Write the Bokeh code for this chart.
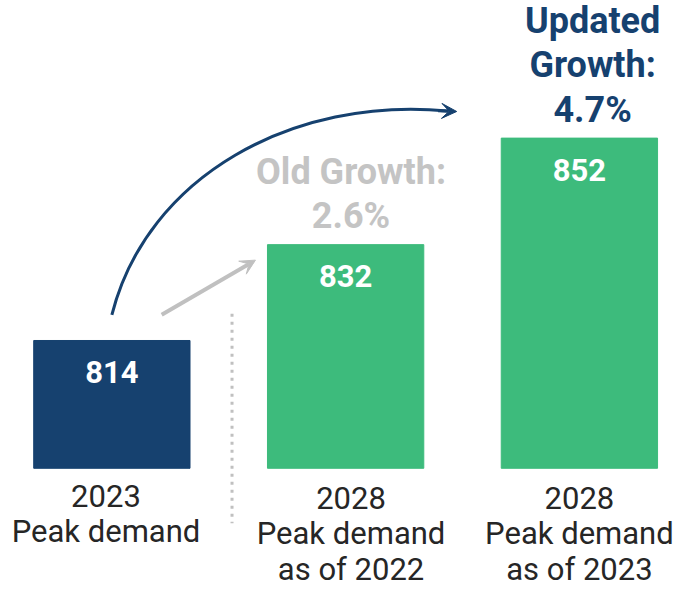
from bokeh.plotting import figure
from bokeh.models import ColumnDataSource, Range1d, Arrow, VeeHead
from bokeh.core.properties import value
from bokeh.embed import file_html
from bokeh.resources import INLINE

# ---- data ----
categories = ["2023\nPeak demand", "2028\nPeak demand\nas of 2022", "2028\nPeak demand\nas of 2023"]
values = [814, 832, 852]
value_labels = ["814", "832", "852"]
growth_bar = [1, 2]
growth_labels = ["Old Growth:\n2.6%", "Updated\nGrowth:\n4.7%"]
baseline = 790

# ---- styles ----
NAVY = "#16416F"
GREEN = "#3DBB7C"
GREY_TXT = "#C4C4C4"
GREY_LINE = "#C0C0C0"
DARK = "#262626"
bar_colors = [NAVY, GREEN, GREEN]
growth_colors = [GREY_TXT, NAVY]
FONT = value("Roboto")

W, H = 676, 589
SX, SY = W / 692, H / 605
PX_X = 239.3 * SX
PX_Y = 5.47 * SY
x0 = -114 * SX / PX_X
y0 = baseline - (H - 480.5 * SY) / PX_Y

# renderer places the "alphabetic" anchor ~0.385 em above the true baseline
FIX_S = 0.385 * 31
FIX_L = 0.385 * 36

cat_xoff = [-5.9, 5.4, 0.0]
cat_yoff = [39.5, 42.0, 42.0]
cat_step = 35.5
growth_xoff = [5.4, 13.2]

p = figure(width=W, height=H, output_backend="svg", toolbar_location=None,
           x_range=Range1d(x0, x0 + W / PX_X), y_range=Range1d(y0, y0 + H / PX_Y),
           x_axis_location=None, y_axis_location=None, min_border=0)
p.grid.visible = False
p.outline_line_color = None
p.background_fill_color = "white"
p.border_fill_color = "white"

xs = list(range(len(values)))
bars = ColumnDataSource(dict(x=xs, top=values, color=bar_colors, label=value_labels))
p.vbar(x="x", top="top", bottom=baseline, width=160 * SX / PX_X, color="color", source=bars)

# value labels inside bars
p.text(x="x", y="top", text="label", source=bars, y_offset=43.8 - FIX_S,
       text_align="center", text_baseline="alphabetic", text_color="white",
       text_font=FONT, text_font_style="bold", text_font_size="31px")

# category labels below bars
cx, cy, ct, cxo, cyo = [], [], [], [], []
for i, lab in enumerate(categories):
    for k, line in enumerate(lab.split("\n")):
        cx.append(xs[i]); cy.append(baseline); ct.append(line)
        cxo.append(cat_xoff[i]); cyo.append(cat_yoff[i] + cat_step * k - FIX_S)
p.text(x="x", y="y", text="t", x_offset="xo", y_offset="yo",
       source=ColumnDataSource(dict(x=cx, y=cy, t=ct, xo=cxo, yo=cyo)),
       text_align="center", text_baseline="alphabetic", text_color=DARK,
       text_font=FONT, text_font_size="31px")

# growth labels above bars
gx, gy, gt, gxo, gyo, gc = [], [], [], [], [], []
for j, lab in enumerate(growth_labels):
    lines = lab.split("\n")
    n = len(lines)
    b = growth_bar[j]
    for k, line in enumerate(lines):
        gx.append(xs[b]); gy.append(values[b]); gt.append(line)
        gxo.append(growth_xoff[j]); gyo.append(-14.6 - 44.3 * (n - 1 - k) - FIX_L)
        gc.append(growth_colors[j])
p.text(x="x", y="y", text="t", x_offset="xo", y_offset="yo", text_color="c",
       source=ColumnDataSource(dict(x=gx, y=gy, t=gt, xo=gxo, yo=gyo, c=gc)),
       text_align="center", text_baseline="alphabetic",
       text_font=FONT, text_font_style="bold", text_font_size="36px")

# dotted separator
p.segment(x0=[0.514], y0=[819.0], x1=[0.514], y1=[779.7],
          line_color=GREY_LINE, line_width=3, line_dash="3 5", line_cap="butt")

# curved "updated growth" arrow
p.bezier(x0=[0.0], y0=[818.8], x1=[1.4375], y1=[857.09],
         cx0=[0.150], cy0=[844.9], cx1=[0.777], cy1=[859.9],
         line_color=NAVY, line_width=3)
p.add_layout(Arrow(x_start=1.3957, y_start=857.13, x_end=1.4751, y_end=857.0,
                   line_color=NAVY, line_width=3,
                   end=VeeHead(size=15, fill_color=NAVY, line_color=NAVY, line_width=1)))
# straight "old growth" arrow
p.add_layout(Arrow(x_start=0.2131, y_start=818.85, x_end=0.6143, y_end=829.09,
                   line_color=GREY_LINE, line_width=4,
                   end=VeeHead(size=15, fill_color=GREY_LINE, line_color=GREY_LINE, line_width=1)))

open("out.html", "w").write(file_html(p, INLINE))
